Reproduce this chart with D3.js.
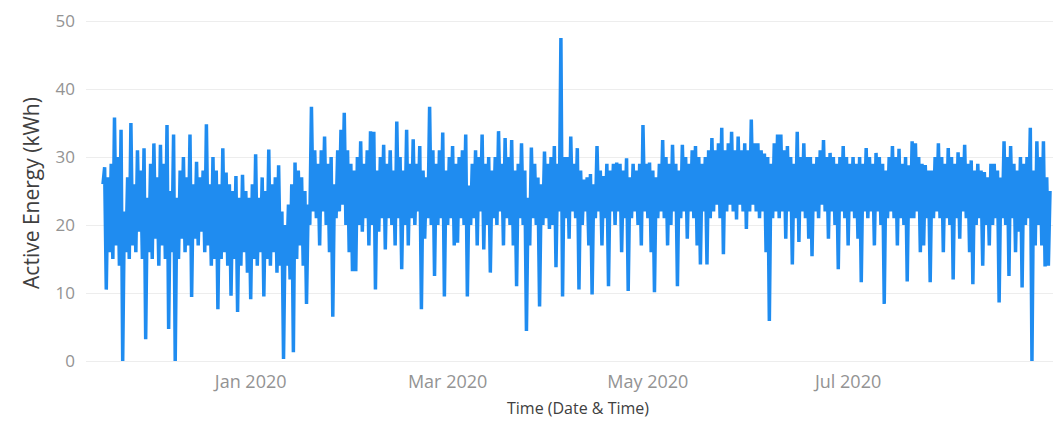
<!DOCTYPE html>
<html>
<head>
<meta charset="utf-8">
<script src="https://cdn.jsdelivr.net/npm/d3@7"></script>
<style>
  body { margin: 0; background: #fff; }
  svg { display: block; }
</style>
</head>
<body>
<svg id="chart" width="1053" height="424"></svg>
<script>
// First day of the metered series; one trough and one peak reading per day.
const startDate = "2019-11-17";

// Daily trough readings (kWh), taken early in the morning.
const dailyLow = [
  26, 10.5, 16, 15, 17, 14, 0, 16, 15, 17,
  16, 19, 15, 3.2, 16, 15, 18, 14, 17, 15,
  4.7, 16, 0, 15, 18, 16, 17, 9.4, 18, 17,
  19, 16, 17, 14, 15, 7.6, 15, 16, 14, 9.6,
  15, 7.2, 14, 16, 13, 9.1, 15, 14, 16, 9.5,
  15, 14, 16, 13, 14, 0.3, 14, 12, 1.3, 15,
  17, 14, 8.4, 20, 22, 21, 17, 22, 20, 16,
  6.5, 21, 22, 23, 20, 16, 13.2, 13.2, 20, 19,
  21, 17, 20, 10.5, 19, 21, 16.4, 21, 20, 17,
  21, 13.5, 20, 17, 21, 20, 22, 7.6, 18, 21,
  20, 12.5, 20, 21, 9.5, 20, 21, 17, 17.4, 21,
  20, 9.5, 20, 21, 17, 22, 16.4, 20, 13, 21,
  20, 22, 17, 21, 20, 17, 11, 21, 20, 4.4,
  17, 21, 20, 8, 20, 21, 19.4, 20, 13.8, 22,
  9.5, 21, 18, 22, 21, 10.5, 20, 22, 17, 9.8,
  21, 22, 17, 21, 11, 22, 20, 22, 16, 21,
  10.3, 21, 22, 20, 17, 22, 21, 16, 10.1, 21,
  22, 21, 17, 20, 22, 11, 21, 22, 18, 22,
  21, 17, 14.2, 22, 14.2, 21, 22, 23, 21, 15.7,
  22, 23, 22, 20.8, 23, 22, 19.4, 22, 23, 22,
  21, 22, 16, 5.9, 21, 22, 21, 22, 18, 22,
  14.2, 21, 17.5, 22, 21, 18, 15.4, 22, 21, 23,
  22, 18, 22, 20, 13.5, 22, 21, 17, 22, 21,
  18, 11.6, 22, 21, 22, 17, 22, 20, 8.4, 21,
  22, 21, 17, 21, 20, 11.7, 21, 21, 22, 16,
  17, 21, 11.6, 21, 22, 21, 16, 21, 20, 12,
  21, 18, 22, 21, 16, 11.3, 20, 21, 14, 20,
  17, 20, 21, 8.6, 21, 20, 12.5, 21, 16, 19,
  10.8, 20, 21, 0, 17, 20, 17, 13.9, 14
];

// Daily peak readings (kWh), taken in the afternoon.
const dailyPeak = [
  28.5, 27, 29, 35.8, 30, 34, 22, 27, 35, 26,
  31, 28, 31.3, 24, 29, 32, 27, 31.8, 29, 34.7,
  25, 33.3, 24, 28, 30, 27, 33.3, 26, 29.3, 27,
  28, 34.8, 26, 30, 28, 26, 31.3, 27.7, 26, 25,
  27.2, 24, 27.4, 25, 24, 26, 30.4, 24, 27, 25,
  31.1, 26, 27, 28.8, 22, 20, 23, 26, 29.2, 28,
  27, 25, 23, 37.4, 31, 29, 31, 33, 29, 30,
  26, 31, 34, 36.5, 31, 29, 28, 30, 32.3, 29,
  31, 33.8, 33.7, 28, 30, 31.8, 29, 31, 28, 35.2,
  30, 28, 34, 29, 32.6, 29, 31.6, 28, 27, 37.4,
  31, 29, 31, 33.6, 28, 30, 31.6, 29, 30, 31,
  33.3, 25.8, 29, 31, 30, 33.3, 29, 30, 28, 30,
  33.8, 29, 32.8, 30, 32.5, 28, 29, 32, 28, 24,
  31.4, 29, 27, 26, 30.8, 29, 30, 31.6, 29, 47.5,
  30, 30, 33, 29, 31.3, 28, 26.7, 27, 27.5, 26,
  31.6, 28, 27.2, 29, 28, 29, 29.2, 29, 28, 29.8,
  27, 29, 28, 29, 34.7, 29, 29.2, 28, 27, 29,
  32.5, 30, 29, 31.8, 29, 28, 31.8, 30, 29, 31,
  31.6, 30, 29, 30, 31, 32.8, 31, 32, 34.3, 31,
  32, 33.7, 31, 33, 31, 32, 31, 35.5, 32, 32,
  31, 30.5, 30, 29, 32, 33.3, 33.3, 31, 31.6, 30,
  29, 33.7, 30, 32, 30, 30, 29, 30, 31, 32.5,
  30, 30.6, 30, 29, 30, 31.6, 30, 29, 30, 29,
  30, 29, 31.3, 30, 29, 30.6, 30, 29, 28, 30,
  31.6, 30, 31.2, 29, 30, 28.8, 32.3, 32, 30, 29,
  28.8, 28, 28, 30, 32, 30, 29, 31.3, 30, 29,
  30.7, 30, 31.8, 29, 29.5, 28, 29, 28, 27.8, 27,
  29, 29, 28, 27, 32.3, 30, 31.6, 29, 28, 30,
  29, 30, 34.3, 28, 32.3, 30, 32.3, 27, 25
];

// Axis ticks
const yTicks = [0, 10, 20, 30, 40, 50];
const xTickDates = ["2020-01-01", "2020-03-01", "2020-05-01", "2020-07-01"];

const parseDay = d3.timeParse("%Y-%m-%d");
const day0 = parseDay(startDate);

// Interleave trough (04:00) and peak (16:00) readings into one time series.
const series = [];
dailyLow.forEach((low, i) => {
  const day = d3.timeDay.offset(day0, i);
  series.push({ t: d3.timeHour.offset(day, 4), v: low });
  series.push({ t: d3.timeHour.offset(day, 16), v: dailyPeak[i] });
});

const svg = d3.select("#chart");
const FONT = "'Open Sans', 'Noto Sans', sans-serif";

const x = d3.scaleTime()
  .domain(d3.extent(series, d => d.t))
  .range([103, 1050]);

const y = d3.scaleLinear()
  .domain([0, 50])
  .range([361, 21]);

// Horizontal gridlines
svg.append("g")
  .selectAll("line")
  .data(yTicks)
  .join("line")
  .attr("x1", 86)
  .attr("x2", 1053)
  .attr("y1", d => y(d) + 0.5)
  .attr("y2", d => y(d) + 0.5)
  .attr("stroke", "#ededed")
  .attr("stroke-width", 1);

// Y axis labels
const gy = svg.append("g")
  .attr("transform", "translate(81,0)")
  .call(d3.axisLeft(y).tickValues(yTicks).tickSize(0).tickPadding(6));
gy.select(".domain").remove();
gy.selectAll("text")
  .attr("fill", "#939393")
  .style("font-family", FONT)
  .style("font-size", "17px");

// X axis labels
const gx = svg.append("g")
  .attr("transform", `translate(0,${y(0)})`)
  .call(d3.axisBottom(x)
    .tickValues(xTickDates.map(parseDay))
    .tickFormat(d3.timeFormat("%b %Y"))
    .tickSize(0)
    .tickPadding(14));
gx.select(".domain").remove();
gx.selectAll("text")
  .attr("fill", "#939393")
  .style("font-family", FONT)
  .style("font-size", "18px");

// Energy line
svg.append("path")
  .datum(series)
  .attr("fill", "none")
  .attr("stroke", "#1f8cf0")
  .attr("stroke-width", 3.5)
  .attr("stroke-linejoin", "miter")
  .attr("d", d3.line().x(d => x(d.t)).y(d => y(d.v)));

// Axis titles
svg.append("text")
  .attr("x", 578)
  .attr("y", 414)
  .attr("text-anchor", "middle")
  .attr("fill", "#404040")
  .style("font-family", FONT)
  .style("font-size", "16px")
  .text("Time (Date & Time)");

svg.append("text")
  .attr("transform", "translate(31,193) rotate(-90)")
  .attr("text-anchor", "middle")
  .attr("dominant-baseline", "central")
  .attr("fill", "#404040")
  .style("font-family", FONT)
  .style("font-size", "21px")
  .text("Active Energy (kWh)");
</script>
</body>
</html>
